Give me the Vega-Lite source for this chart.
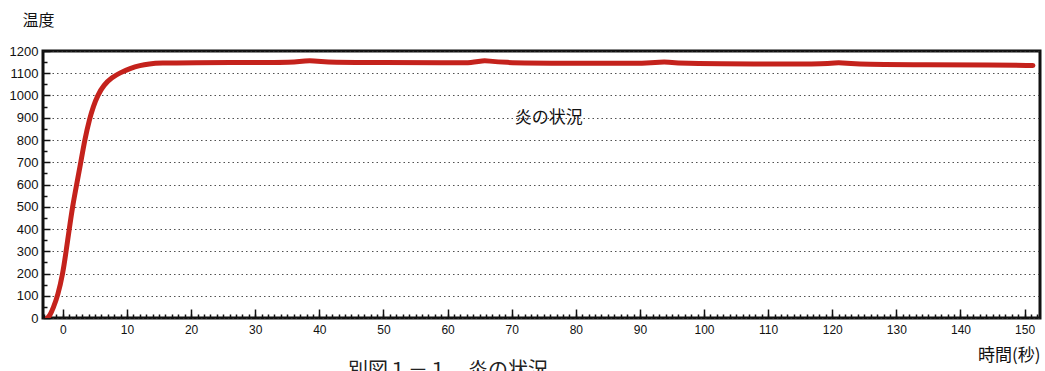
{
  "$schema": "https://vega.github.io/schema/vega-lite/v6.json",
  "width": 997,
  "height": 267,
  "autosize": {"type": "none"},
  "padding": {"left": 43, "top": 51, "right": 5, "bottom": 53},
  "background": "white",
  "title": {"text": "別図１－１　炎の状況", "orient": "bottom", "anchor": "start", "frame": "group", "dx": 305, "dy": -2, "offset": 0, "fontSize": 20, "font": "Noto Sans CJK JP", "fontWeight": "normal", "color": "#222", "baseline": "top"},
  "config": {"view": {"stroke": "#111", "strokeWidth": 3}},
  "datasets": {
    "temp": [
      {"t": -2.4, "v": 0}, {"t": -2.0, "v": 12}, {"t": -1.5, "v": 45}, {"t": -0.8, "v": 100},
      {"t": 0, "v": 200}, {"t": 0.5, "v": 300}, {"t": 1.0, "v": 400}, {"t": 1.5, "v": 500},
      {"t": 2.15, "v": 600}, {"t": 2.8, "v": 700}, {"t": 3.4, "v": 800}, {"t": 4.2, "v": 900},
      {"t": 4.75, "v": 950}, {"t": 5.4, "v": 1000}, {"t": 6.4, "v": 1048}, {"t": 7.6, "v": 1080},
      {"t": 8.9, "v": 1102}, {"t": 10.5, "v": 1122},
      {"t": 12, "v": 1135}, {"t": 13.5, "v": 1142}, {"t": 15, "v": 1146},
      {"t": 20, "v": 1148}, {"t": 30, "v": 1148}, {"t": 37, "v": 1149}, {"t": 38.5, "v": 1160},
      {"t": 40, "v": 1149}, {"t": 50, "v": 1148}, {"t": 60, "v": 1147}, {"t": 64, "v": 1146},
      {"t": 65.8, "v": 1161}, {"t": 67.5, "v": 1147}, {"t": 80, "v": 1145}, {"t": 92, "v": 1143},
      {"t": 93.8, "v": 1155}, {"t": 95.5, "v": 1143}, {"t": 110, "v": 1142}, {"t": 119.5, "v": 1140},
      {"t": 121, "v": 1151}, {"t": 122.5, "v": 1140}, {"t": 135, "v": 1138}, {"t": 145, "v": 1137},
      {"t": 151.3, "v": 1135}
    ],
    "note": [{"x": 75.8, "y": 900, "label": "炎の状況"}]
  },
  "layer": [
    {
      "data": {"name": "temp"},
      "mark": {"type": "line", "color": "#c4221c", "strokeWidth": 5, "strokeCap": "round", "strokeJoin": "round", "interpolate": "basis", "clip": true},
      "encoding": {
        "x": {
          "field": "t", "type": "quantitative",
          "scale": {"domain": [-3.1, 152.4], "nice": false, "zero": false},
          "axis": {
            "orient": "bottom",
            "values": [0, 10, 20, 30, 40, 50, 60, 70, 80, 90, 100, 110, 120, 130, 140, 150],
            "ticks": true, "tickSize": -9, "tickWidth": 1.5, "tickColor": "#111",
            "domain": false, "grid": false,
            "labelFont": "Liberation Sans", "labelFontSize": 12, "labelColor": "#111", "labelPadding": 15,
            "title": "時間(秒)", "titleFont": "Noto Sans CJK JP", "titleFontSize": 17, "titleFontWeight": "normal", "titleColor": "#111",
            "titleX": 997, "titleY": 37, "titleAlign": "right", "titleBaseline": "middle"
          }
        },
        "y": {
          "field": "v", "type": "quantitative",
          "scale": {"domain": [0, 1200], "nice": false},
          "axis": {
            "orient": "left",
            "values": [0, 100, 200, 300, 400, 500, 600, 700, 800, 900, 1000, 1100, 1200],
            "format": "d",
            "ticks": true, "tickSize": -7, "tickWidth": 1.5, "tickColor": "#111",
            "domain": false,
            "grid": true, "gridDash": [1.5, 3], "gridColor": "#333", "gridWidth": 1, "gridOpacity": 0.85,
            "labelFont": "Liberation Sans", "labelFontSize": 13, "labelColor": "#111", "labelPadding": 12,
            "title": "温度", "titleFont": "Noto Sans CJK JP", "titleFontSize": 16, "titleFontWeight": "normal", "titleColor": "#111",
            "titleAngle": 0, "titleX": -21, "titleY": -31, "titleAlign": "left", "titleBaseline": "middle"
          }
        }
      }
    },
    {
      "data": {"name": "note"},
      "mark": {"type": "text", "font": "Noto Sans CJK JP", "fontSize": 17, "color": "#111", "align": "center", "baseline": "middle"},
      "encoding": {
        "x": {
          "field": "x", "type": "quantitative",
          "axis": {
            "orient": "bottom", "values": [-3, -2, -1, 0, 1, 2, 3, 4, 5, 6, 7, 8, 9, 10, 11, 12, 13, 14, 15, 16, 17, 18, 19, 20, 21, 22, 23, 24, 25, 26, 27, 28, 29, 30, 31, 32, 33, 34, 35, 36, 37, 38, 39, 40, 41, 42, 43, 44, 45, 46, 47, 48, 49, 50, 51, 52, 53, 54, 55, 56, 57, 58, 59, 60, 61, 62, 63, 64, 65, 66, 67, 68, 69, 70, 71, 72, 73, 74, 75, 76, 77, 78, 79, 80, 81, 82, 83, 84, 85, 86, 87, 88, 89, 90, 91, 92, 93, 94, 95, 96, 97, 98, 99, 100, 101, 102, 103, 104, 105, 106, 107, 108, 109, 110, 111, 112, 113, 114, 115, 116, 117, 118, 119, 120, 121, 122, 123, 124, 125, 126, 127, 128, 129, 130, 131, 132, 133, 134, 135, 136, 137, 138, 139, 140, 141, 142, 143, 144, 145, 146, 147, 148, 149, 150, 151, 152],
            "labels": false, "domain": false, "grid": false, "title": null,
            "ticks": true, "tickColor": "#111", "tickWidth": 1.5, "tickSize": -4
          }
        },
        "y": {
          "field": "y", "type": "quantitative",
          "axis": {
            "orient": "left", "values": [50, 150, 250, 350, 450, 550, 650, 750, 850, 950, 1050, 1150],
            "labels": false, "domain": false, "grid": false, "title": null,
            "ticks": true, "tickColor": "#111", "tickWidth": 1.5, "tickSize": -4
          }
        },
        "text": {"field": "label"}
      }
    }
  ],
  "resolve": {"axis": {"x": "independent", "y": "independent"}}
}
